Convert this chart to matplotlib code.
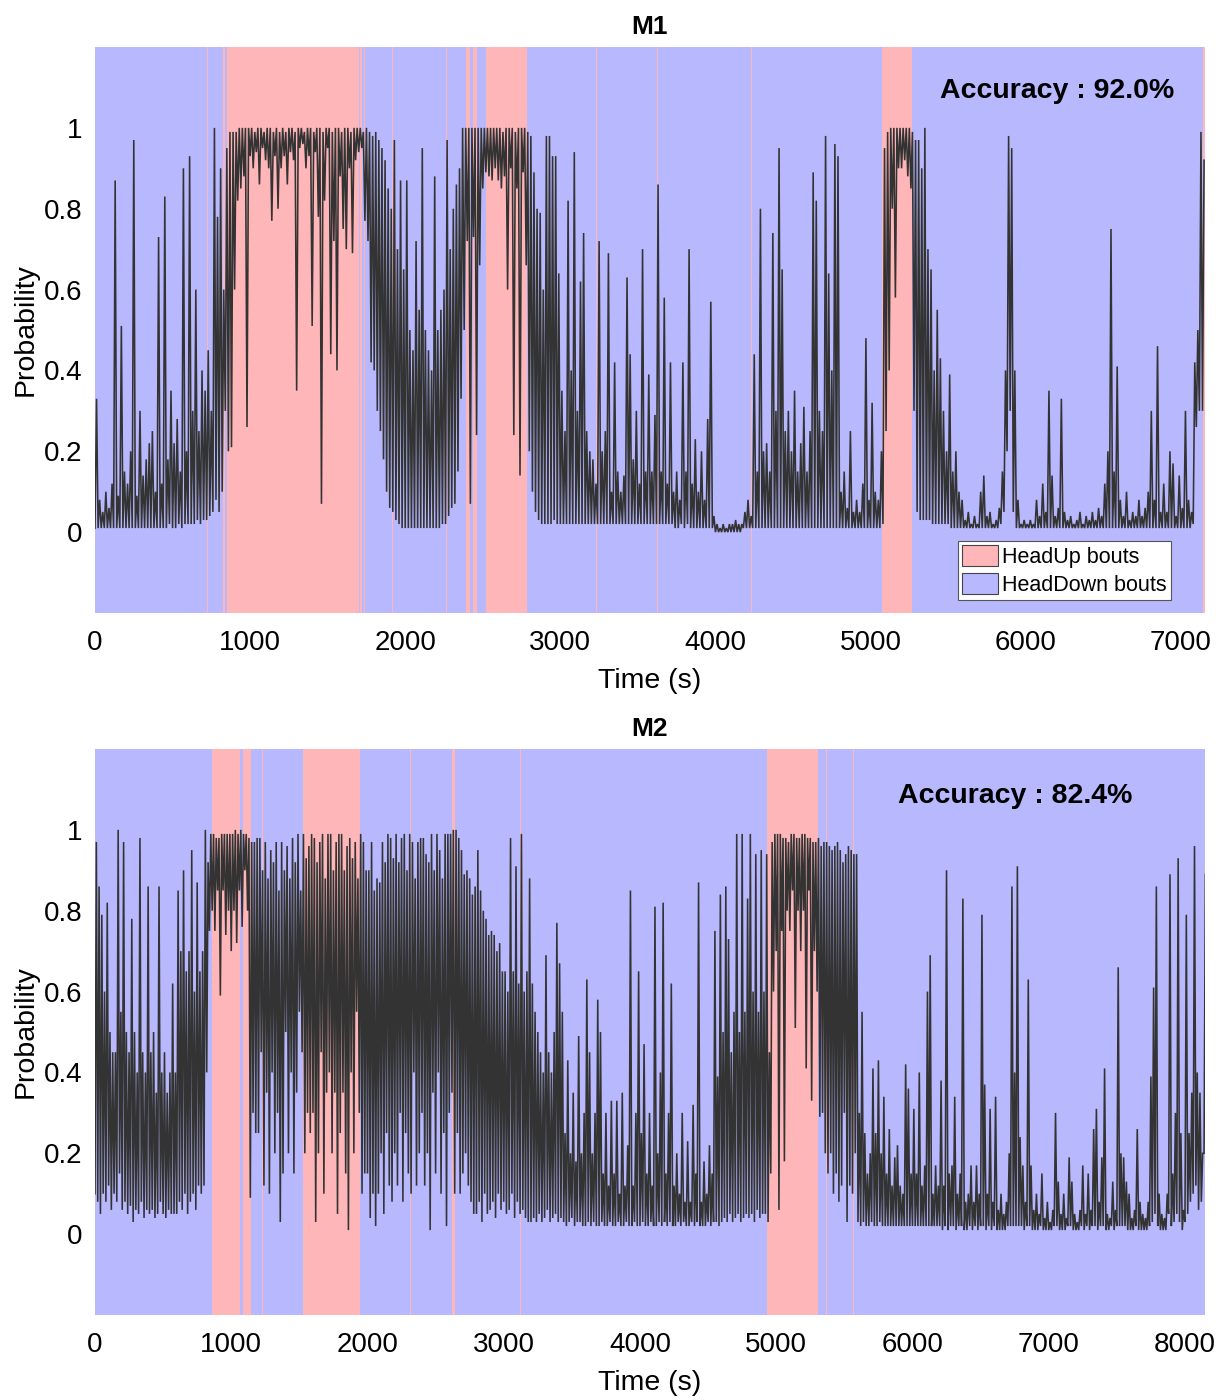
import numpy as np
import matplotlib
matplotlib.use('Agg')
import matplotlib.pyplot as plt
from matplotlib.patches import Patch

plt.rcParams['font.family'] = ['Liberation Sans', 'DejaVu Sans']

STEP = 20  # seconds per bin; each bin holds the lowest and highest probability (percent)

# ---------------- M1 ----------------
m1_high = [
    33, 8, 5, 10, 6, 12, 87, 9, 51, 15,
    12, 20, 97, 9, 30, 14, 18, 22, 25, 10,
    73, 12, 83, 18, 35, 22, 28, 15, 90, 20,
    93, 30, 60, 25, 40, 35, 45, 30, 100, 78,
    90, 60, 95, 99, 99, 99, 100, 100, 100, 100,
    100, 99, 100, 100, 99, 100, 100, 99, 100, 99,
    100, 99, 100, 100, 99, 100, 100, 99, 100, 100,
    99, 100, 100, 99, 100, 100, 99, 100, 100, 99,
    100, 100, 99, 100, 100, 100, 99, 100, 99, 98,
    99, 97, 95, 92, 85, 80, 97, 70, 87, 65,
    87, 50, 45, 72, 55, 95, 50, 45, 40, 88,
    50, 55, 60, 97, 70, 80, 86, 90, 100, 100,
    100, 100, 100, 100, 100, 100, 100, 100, 100, 100,
    100, 99, 100, 100, 100, 99, 100, 100, 100, 99,
    98, 89, 80, 79, 60, 98, 98, 93, 93, 64,
    35, 25, 82, 40, 94, 30, 62, 74, 25, 20,
    18, 12, 72, 20, 25, 69, 10, 42, 15, 10,
    14, 63, 44, 18, 30, 12, 70, 15, 39, 15,
    29, 86, 15, 58, 12, 42, 10, 15, 8, 42,
    15, 70, 12, 23, 10, 20, 8, 28, 57, 4,
    2, 1, 2, 1, 2, 2, 3, 2, 2, 5,
    8, 4, 44, 15, 80, 20, 22, 15, 74, 30,
    95, 65, 25, 30, 20, 35, 15, 22, 31, 15,
    25, 89, 82, 30, 25, 98, 64, 40, 96, 93,
    10, 15, 6, 25, 5, 8, 5, 12, 48, 8,
    32, 10, 8, 20, 95, 99, 100, 100, 100, 100,
    100, 100, 100, 99, 97, 97, 90, 100, 70, 65,
    40, 55, 43, 30, 20, 39, 15, 20, 10, 8,
    3, 5, 2, 4, 2, 10, 14, 4, 5, 2,
    3, 6, 15, 40, 98, 95, 40, 8, 2, 3,
    2, 3, 2, 8, 4, 12, 5, 35, 14, 4,
    6, 33, 5, 3, 4, 2, 3, 5, 2, 4,
    3, 5, 3, 6, 4, 12, 20, 75, 15, 41,
    8, 4, 10, 3, 5, 4, 8, 4, 6, 10,
    30, 8, 46, 5, 12, 5, 20, 17, 4, 14,
    6, 30, 8, 5, 42, 50, 99, 92,
]
m1_low = [
    1, 1, 1, 1, 1, 1, 1, 1, 1, 1,
    1, 1, 1, 1, 1, 1, 1, 1, 1, 1,
    1, 1, 1, 1, 2, 1, 1, 2, 1, 2,
    2, 2, 2, 3, 2, 3, 3, 4, 5, 8,
    5, 10, 30, 20, 21, 60, 82, 85, 88, 26,
    93, 90, 94, 86, 95, 92, 90, 77, 93, 80,
    90, 93, 86, 94, 92, 35, 95, 96, 90, 93,
    51, 94, 78, 7, 82, 95, 44, 72, 40, 88,
    75, 70, 90, 69, 92, 94, 95, 77, 72, 42,
    40, 30, 25, 18, 10, 6, 5, 3, 2, 1,
    1, 1, 1, 1, 1, 1, 1, 1, 1, 1,
    1, 1, 2, 2, 4, 6, 7, 15, 33, 50,
    72, 7, 73, 24, 66, 85, 89, 88, 87, 90,
    87, 85, 88, 60, 90, 24, 85, 14, 89, 66,
    20, 10, 5, 3, 2, 2, 2, 2, 3, 2,
    2, 2, 2, 2, 2, 2, 2, 2, 2, 2,
    2, 2, 2, 2, 2, 2, 2, 2, 2, 2,
    2, 2, 2, 2, 2, 2, 2, 2, 2, 2,
    2, 2, 2, 2, 2, 2, 2, 1, 1, 2,
    1, 2, 1, 1, 1, 1, 1, 1, 1, 1,
    0, 0, 0, 0, 0, 0, 0, 0, 0, 1,
    1, 1, 1, 1, 1, 1, 1, 1, 1, 1,
    1, 1, 1, 1, 1, 1, 1, 1, 1, 1,
    1, 1, 1, 1, 1, 1, 1, 1, 1, 1,
    1, 1, 1, 1, 1, 1, 1, 1, 1, 1,
    1, 1, 1, 1, 2, 25, 40, 80, 58, 90,
    90, 92, 88, 85, 30, 5, 3, 3, 3, 3,
    2, 2, 2, 2, 2, 2, 1, 1, 1, 1,
    1, 1, 1, 1, 1, 1, 1, 1, 1, 1,
    1, 1, 2, 5, 20, 30, 5, 1, 1, 1,
    1, 1, 1, 1, 1, 1, 1, 1, 1, 1,
    1, 1, 1, 1, 1, 1, 1, 1, 1, 1,
    1, 1, 1, 1, 1, 1, 1, 1, 1, 1,
    1, 1, 1, 1, 1, 1, 1, 1, 1, 1,
    1, 1, 1, 1, 1, 1, 1, 1, 1, 1,
    1, 1, 1, 1, 2, 26, 30, 30,
]

# ---------------- M2 ----------------
m2_high = [
    97, 86, 79, 60, 82, 50, 45, 45, 100, 55,
    97, 50, 45, 78, 50, 40, 98, 45, 40, 86,
    45, 50, 35, 86, 40, 45, 35, 40, 62, 40,
    85, 70, 90, 65, 70, 95, 60, 87, 65, 70,
    100, 92, 99, 99, 98, 98, 99, 99, 99, 99,
    99, 100, 99, 100, 99, 99, 98, 97, 97, 98,
    98, 90, 97, 88, 95, 92, 97, 85, 97, 90,
    96, 88, 98, 92, 99, 85, 99, 93, 96, 99,
    98, 92, 97, 99, 88, 99, 99, 90, 97, 99,
    99, 90, 96, 98, 93, 97, 88, 99, 97, 90,
    90, 97, 85, 88, 87, 97, 92, 99, 98, 93,
    99, 92, 98, 99, 90, 99, 97, 88, 97, 98,
    98, 94, 92, 99, 90, 99, 95, 88, 99, 99,
    99, 100, 100, 98, 95, 89, 90, 88, 84, 86,
    95, 85, 80, 78, 74, 75, 74, 70, 72, 65,
    65, 60, 98, 65, 91, 62, 99, 60, 65, 88,
    62, 55, 50, 45, 40, 69, 45, 40, 50, 77,
    67, 55, 25, 43, 20, 35, 18, 49, 20, 30,
    63, 45, 20, 30, 58, 50, 15, 30, 12, 33,
    15, 33, 10, 35, 12, 22, 85, 12, 30, 65,
    25, 47, 15, 30, 12, 81, 20, 40, 82, 15,
    30, 62, 12, 20, 10, 30, 8, 23, 8, 32,
    15, 87, 8, 18, 10, 22, 15, 75, 39, 84,
    50, 86, 73, 45, 55, 99, 50, 99, 55, 83,
    99, 60, 94, 55, 95, 60, 94, 45, 97, 99,
    99, 99, 98, 98, 97, 99, 99, 98, 98, 99,
    99, 98, 98, 97, 97, 98, 96, 97, 97, 96,
    95, 96, 97, 95, 92, 94, 96, 95, 94, 94,
    30, 55, 25, 15, 20, 41, 25, 43, 20, 34,
    15, 26, 12, 19, 22, 12, 10, 42, 36, 15,
    31, 15, 40, 12, 17, 60, 69, 10, 17, 12,
    38, 12, 90, 15, 17, 34, 10, 15, 83, 8,
    10, 17, 8, 17, 10, 79, 37, 10, 31, 8,
    34, 6, 10, 5, 8, 20, 86, 40, 91, 24,
    17, 8, 63, 17, 6, 10, 5, 15, 4, 8,
    3, 6, 30, 13, 5, 10, 4, 19, 13, 5,
    3, 6, 17, 5, 15, 6, 26, 31, 8, 19,
    41, 5, 4, 13, 6, 66, 20, 19, 13, 10,
    4, 6, 26, 8, 5, 4, 8, 39, 61, 86,
    10, 5, 4, 10, 89, 15, 30, 93, 25, 6,
    79, 25, 35, 96, 40, 35, 20, 89,
]
m2_low = [
    10, 8, 5, 10, 8, 12, 6, 10, 8, 15,
    6, 8, 5, 7, 3, 6, 5, 8, 4, 6,
    5, 6, 4, 5, 8, 5, 4, 6, 5, 5,
    5, 8, 6, 10, 5, 8, 10, 6, 12, 10,
    12, 40, 75, 80, 75, 85, 59, 85, 74, 80,
    70, 80, 72, 85, 76, 90, 80, 9, 30, 25,
    25, 45, 12, 35, 10, 40, 20, 30, 3, 15,
    50, 20, 40, 15, 35, 55, 45, 20, 30, 25,
    30, 3, 20, 45, 10, 35, 40, 20, 35, 5,
    25, 35, 15, 1, 40, 20, 55, 30, 10, 15,
    15, 4, 10, 2, 10, 20, 5, 25, 12, 8,
    20, 12, 30, 8, 25, 15, 10, 40, 12, 20,
    30, 12, 20, 1, 35, 15, 40, 10, 25, 2,
    30, 35, 10, 25, 10, 15, 20, 12, 8, 5,
    5, 8, 3, 10, 5, 6, 8, 4, 10, 6,
    8, 5, 6, 10, 4, 8, 5, 6, 4, 3,
    3, 4, 3, 5, 3, 4, 6, 3, 4, 5,
    3, 4, 3, 2, 3, 4, 2, 3, 3, 2,
    2, 3, 2, 3, 2, 2, 3, 2, 2, 3,
    2, 2, 3, 2, 2, 3, 2, 2, 3, 2,
    2, 3, 2, 2, 3, 2, 2, 3, 2, 3,
    2, 3, 2, 2, 3, 2, 3, 2, 2, 3,
    2, 3, 2, 2, 2, 3, 2, 3, 3, 2,
    3, 4, 3, 5, 3, 4, 5, 3, 4, 5,
    4, 5, 3, 6, 4, 5, 5, 3, 15, 60,
    70, 6, 75, 18, 80, 75, 85, 51, 80, 70,
    80, 41, 85, 33, 70, 60, 29, 30, 20, 15,
    20, 10, 15, 8, 12, 30, 3, 12, 10, 20,
    3, 2, 3, 2, 2, 3, 2, 2, 3, 2,
    2, 2, 2, 2, 2, 2, 2, 2, 2, 2,
    2, 2, 2, 2, 2, 2, 2, 2, 2, 2,
    2, 1, 2, 1, 2, 2, 1, 2, 2, 1,
    1, 2, 1, 2, 1, 2, 2, 1, 2, 1,
    2, 1, 1, 1, 1, 2, 2, 2, 2, 2,
    2, 1, 2, 2, 1, 1, 1, 2, 1, 1,
    1, 1, 2, 2, 1, 1, 1, 2, 2, 1,
    1, 1, 2, 1, 2, 1, 2, 2, 1, 2,
    2, 1, 1, 2, 1, 2, 2, 2, 2, 1,
    1, 1, 2, 1, 1, 1, 1, 2, 3, 5,
    2, 1, 1, 1, 5, 2, 3, 5, 3, 1,
    3, 5, 8, 10, 12, 6, 8, 20,
]

# HeadUp bouts (start, end) in seconds; everything else is HeadDown
m1_headup = [(725, 729), (825, 838), (851, 1702), (1710, 1714), (1718, 1723),
             (1736, 1741), (1779, 1782), (1917, 1923), (2266, 2271),
             (2391, 2417), (2437, 2462), (2520, 2785), (3231, 3237),
             (3626, 3631), (4230, 4236), (4349, 4354), (5075, 5264),
             (7141, 7156)]
m2_headup = [(805, 810), (861, 1064), (1084, 1142), (1229, 1234), (1275, 1280),
             (1495, 1500), (1524, 1945), (2315, 2320), (2620, 2645),
             (3037, 3041), (3081, 3086), (3122, 3128), (3925, 3930),
             (4934, 5304), (5327, 5332), (5368, 5373), (5459, 5464),
             (5566, 5570)]

m1_xmax, m2_xmax = 7156, 8147
m1_xticks = [0, 1000, 2000, 3000, 4000, 5000, 6000, 7000]
m2_xticks = [0, 1000, 2000, 3000, 4000, 5000, 6000, 7000, 8000]
y_ticks = [0, 0.2, 0.4, 0.6, 0.8, 1]
y_ticklabels = ['0', '0.2', '0.4', '0.6', '0.8', '1']
m1_accuracy, m2_accuracy = 92.0, 82.4

PINK = '#FFB6B9'
BLUE = '#B8B8FF'
LINE = '#333333'

fig = plt.figure(figsize=(12.19, 14.0), dpi=100)
ax1 = fig.add_axes([0.07793, 0.56214, 0.91058, 0.40429])
ax2 = fig.add_axes([0.07793, 0.06071, 0.91058, 0.40429])


def trace(low, high):
    n = len(low)
    t = np.empty(2 * n)
    v = np.empty(2 * n)
    t[0::2] = np.arange(n) * STEP
    t[1::2] = np.arange(n) * STEP + STEP / 2
    v[0::2] = np.array(low) / 100.0
    v[1::2] = np.array(high) / 100.0
    return t, v


def draw(ax, low, high, headup, xmax, xticks, title, acc, acc_xy, legend=False):
    ax.set_facecolor(BLUE)
    for s, e in headup:
        ax.axvspan(s, e, color=PINK, lw=0, zorder=1)
    t, v = trace(low, high)
    ax.plot(t, v, color=LINE, lw=1.15, zorder=3, solid_joinstyle='miter')
    ax.set_xlim(0, xmax)
    ax.set_ylim(-0.2, 1.2)
    ax.set_xticks(xticks)
    ax.set_xticklabels([str(x) for x in xticks])
    ax.set_yticks(y_ticks)
    ax.set_yticklabels(y_ticklabels)
    ax.tick_params(length=0, labelsize=20, pad=9)
    ax.tick_params(axis='x', pad=12)
    for sp in ax.spines.values():
        sp.set_visible(False)
    ax.set_xlabel('Time (s)', fontsize=20.5, labelpad=9)
    ax.set_ylabel('Probability', fontsize=20.5, labelpad=4)
    ax.set_title(title, fontsize=19, fontweight='bold', pad=9)
    ax.text(acc_xy[0], acc_xy[1], f'Accuracy : {acc:.1f}%', transform=ax.transAxes,
            ha='center', va='center', fontsize=20.5, fontweight='bold', zorder=5)
    if legend:
        handles = [Patch(facecolor=PINK, edgecolor='#444444', lw=0.8, label='HeadUp bouts'),
                   Patch(facecolor=BLUE, edgecolor='#444444', lw=0.8, label='HeadDown bouts')]
        leg = ax.legend(handles=handles, loc='lower right', bbox_to_anchor=(0.969, 0.023),
                        fontsize=15.5, frameon=True, fancybox=False, framealpha=1,
                        edgecolor='#555555', handlelength=1.7, handleheight=1.1,
                        handletextpad=0.15, borderpad=0.2, labelspacing=0.25,
                        borderaxespad=0)
        leg.get_frame().set_linewidth(0.8)
        leg.set_zorder(6)


draw(ax1, m1_low, m1_high, m1_headup, m1_xmax, m1_xticks, 'M1', m1_accuracy,
     (0.867, 0.922), legend=True)
draw(ax2, m2_low, m2_high, m2_headup, m2_xmax, m2_xticks, 'M2', m2_accuracy,
     (0.829, 0.917))

fig.savefig('out.png', dpi=100)
